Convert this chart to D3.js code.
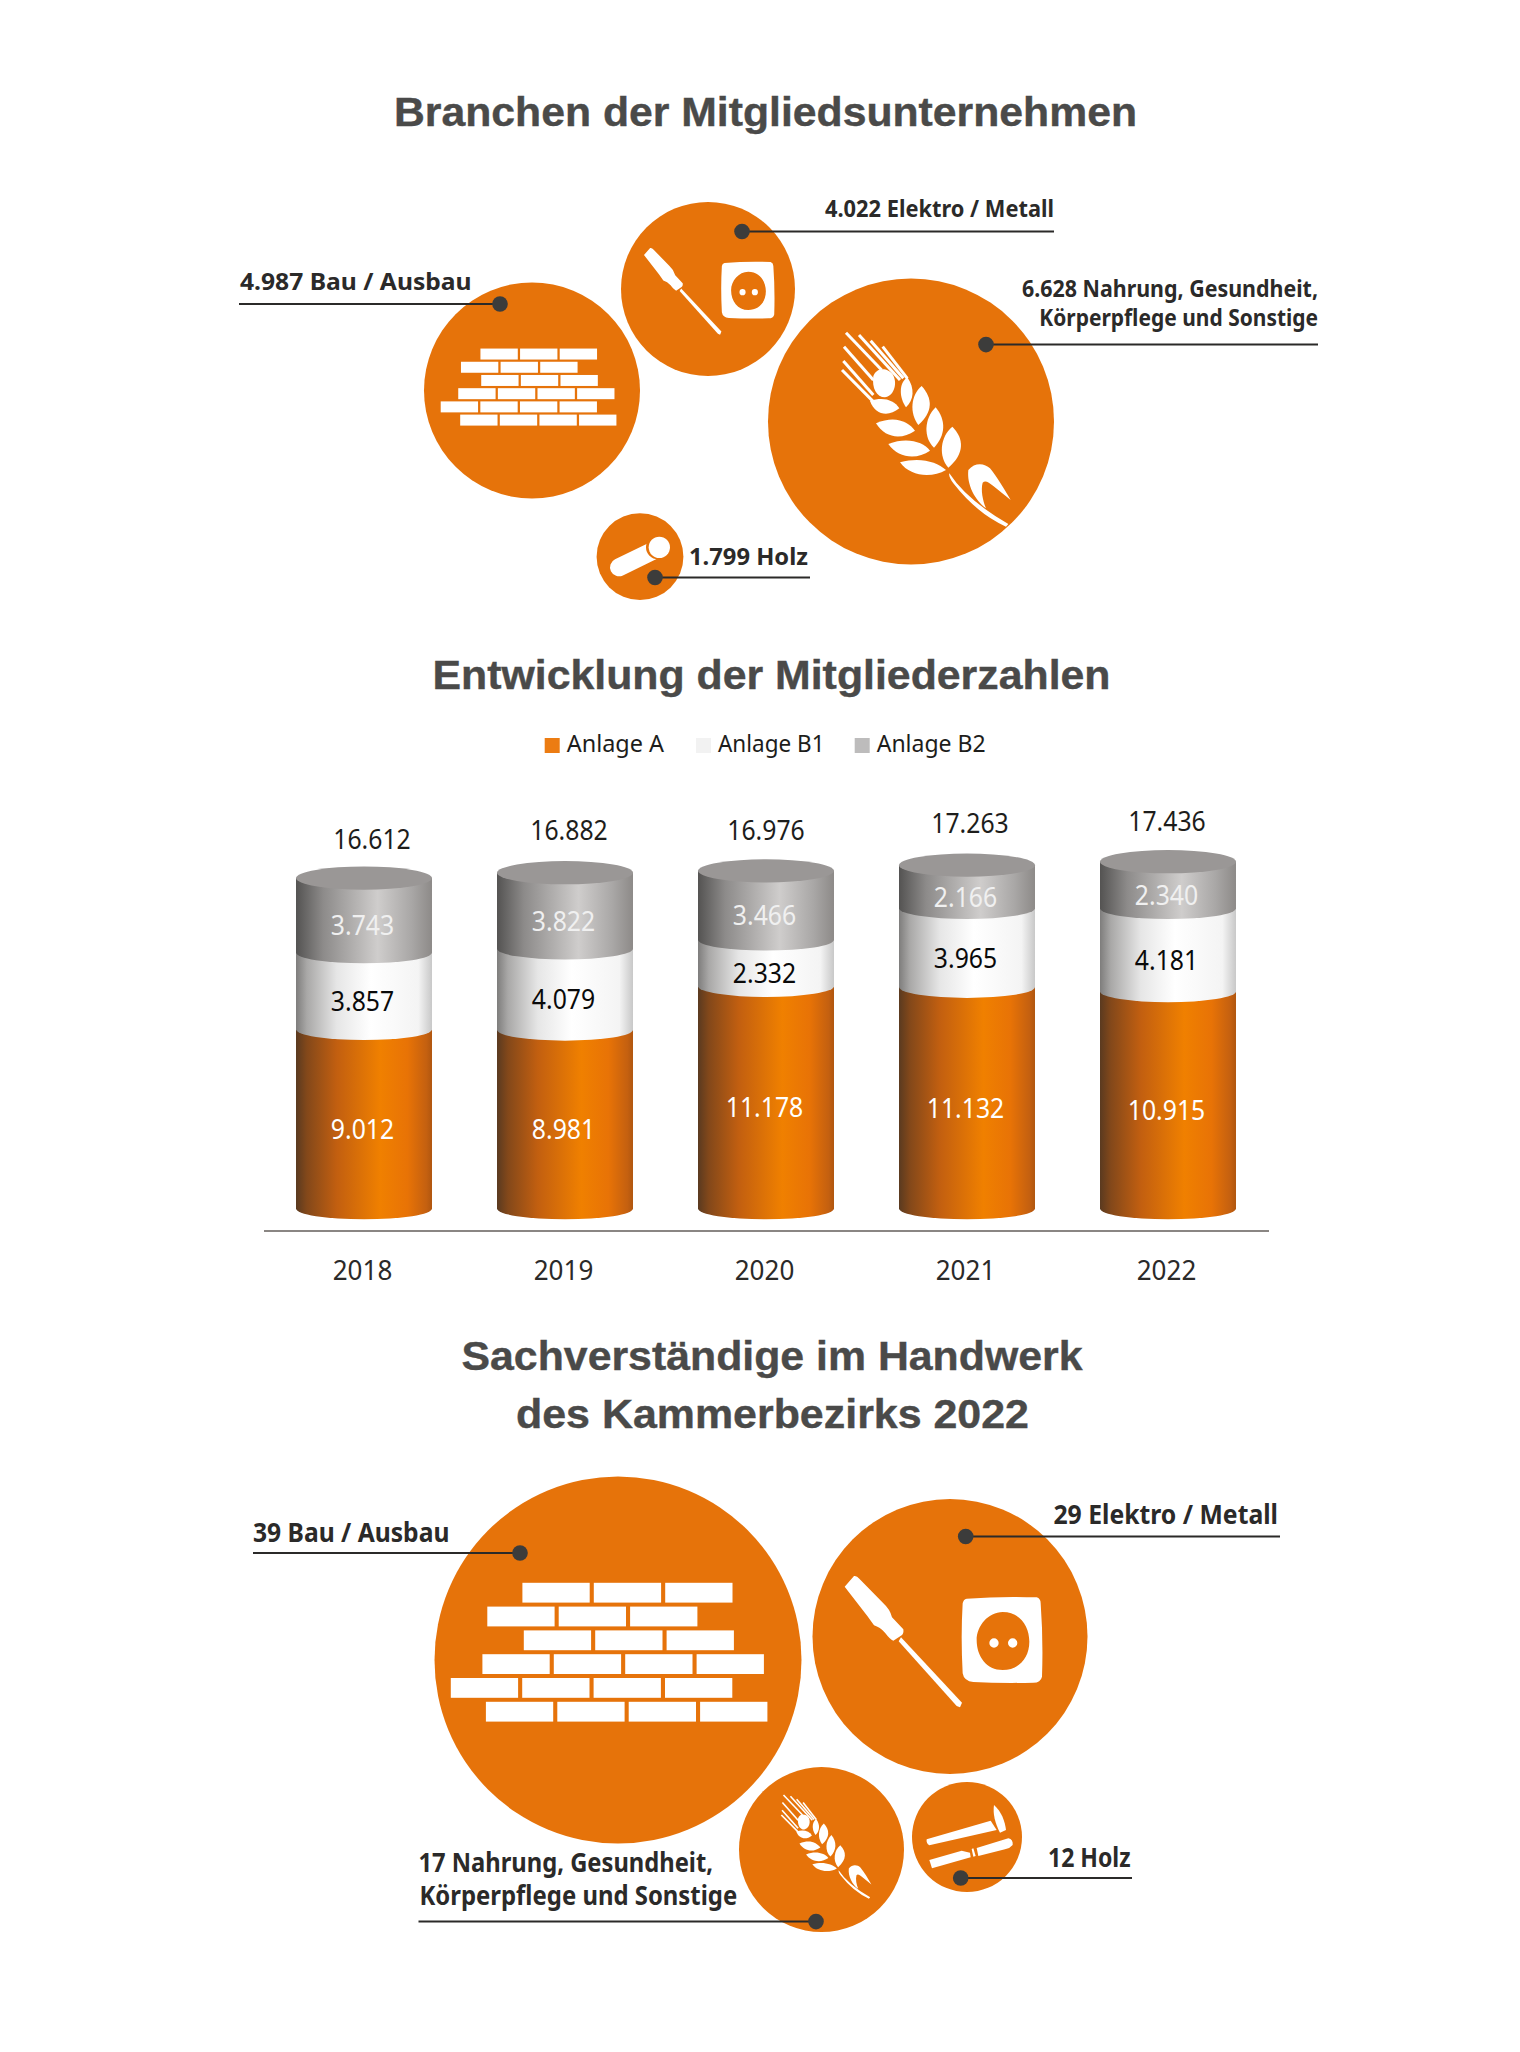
<!DOCTYPE html>
<html lang="de">
<head>
<meta charset="utf-8">
<title>Mitgliedsunternehmen</title>
<script src="https://cdn.jsdelivr.net/npm/d3@7"></script>
<style>
    body { margin: 0; background: #fff; }
    svg { display: block; }
    text { font-family: "Noto Sans", sans-serif; }
    .title { font-family: "Liberation Sans", sans-serif; font-weight: 700; font-size: 41px; fill: #4a4a49; stroke: #4a4a49; stroke-width: 0.4px; text-anchor: middle; }
</style>
</head>
<body>
<div id="chart"></div>
<script>
// Data
const branchNames = [["Bau / Ausbau"], ["Elektro / Metall"], ["Nahrung, Gesundheit,", "Körperpflege und Sonstige"], ["Holz"]];
const memberCounts = [4987, 4022, 6628, 1799];
const expertCounts = [39, 29, 17, 12];

const years = ["2018", "2019", "2020", "2021", "2022"];
const anlageA = [9012, 8981, 11178, 11132, 10915];
const anlageB1 = [3857, 4079, 2332, 3965, 4181];
const anlageB2 = [3743, 3822, 3466, 2166, 2340];
const seriesNames = ["Anlage A", "Anlage B1", "Anlage B2"];

const width = 1520, height = 2052;
const orange = "#e6730a", ink = "#2b2a29", dotColor = "#3c3c3b";
const fmt = d3.formatLocale({decimal: ",", thousands: ".", grouping: [3], currency: ["", ""]}).format(",d");

let svg = d3.select("#chart").append("svg")
    .attr("width", width)
    .attr("height", height);

svg.append("rect").attr("width", width).attr("height", height).attr("fill", "#fff");

// The original type is narrower than Noto Sans, so squeeze it a little
function condense(selection, factor) {
    selection.each(function () {
        d3.select(this)
            .attr("textLength", this.getComputedTextLength() * factor)
            .attr("lengthAdjust", "spacingAndGlyphs");
    });
}

// Titles
let titles = [
    {text: "Branchen der Mitgliedsunternehmen", x: 765.5, y: 126, w: 743},
    {text: "Entwicklung der Mitgliederzahlen", x: 771.5, y: 689, w: 678},
    {text: "Sachverständige im Handwerk", x: 772, y: 1369.5, w: 621},
    {text: "des Kammerbezirks 2022", x: 772.5, y: 1427.5, w: 513}
];
svg.selectAll("text.title")
    .data(titles)
    .enter()
    .append("text")
    .attr("class", "title")
    .attr("x", d => d.x)
    .attr("y", d => d.y)
    .attr("textLength", d => d.w)
    .attr("lengthAdjust", "spacingAndGlyphs")
    .text(d => d.text);

// Icon shapes, each in the coordinates of the crop it was traced from
const toolPaths = [
    "M44,200 L72,168 Q80,166 88,176 L160,250 Q180,268 186,292 L220,328 Q222,340 215,346 L190,362 Q180,358 165,338 Q150,322 132,316 L112,288 Z",
    "M213,352 L396,548 L390,562 L380,558 L206,364 Z",
    "M410,236 Q515,228 620,232 Q632,236 632,250 Q640,360 636,470 Q632,488 610,488 Q510,490 430,486 Q402,484 398,460 Q392,350 398,250 Q400,238 410,236 Z " +
        "M518,276 C570,276 598,320 598,365 C598,415 565,450 518,450 C470,450 440,410 440,360 C440,318 475,276 518,276 Z " +
        "M478,369 a14,14 0 1,0 28,0 a14,14 0 1,0 -28,0 Z M534,369 a14,14 0 1,0 28,0 a14,14 0 1,0 -28,0 Z"
];
const wheatPaths = [
    "M160,228 C170,205 190,205 205,212 C235,225 232,285 195,292 C170,292 155,265 160,228 Z",
    "M262,232 C285,265 282,300 258,322 C238,295 235,250 262,232 Z",
    "M305,258 C338,295 340,335 295,375 C268,340 272,285 305,258 Z",
    "M347,322 C378,360 378,405 342,443 C310,415 312,355 347,322 Z",
    "M397,380 C432,415 435,460 385,503 C355,470 360,410 397,380 Z",
    "M150,303 C190,290 222,300 238,325 C205,352 165,345 150,303 Z",
    "M168,370 C225,345 265,365 285,392 C245,420 195,415 168,370 Z",
    "M205,432 C260,410 310,425 330,452 C290,480 235,475 205,432 Z",
    "M240,487 C300,470 350,485 378,510 C335,535 270,530 240,487 Z",
    "M388,520 Q440,600 565,672 L558,680 Q470,640 400,550 Q385,530 388,520 Z",
    "M445,510 C465,485 495,490 510,505 C530,530 555,570 572,600 L520,558 C505,545 495,540 488,548 C482,570 488,600 498,625 C465,600 440,555 445,510 Z"
];
const wheatAwns = [
    [78, 98, 185, 210], [117, 105, 240, 240], [152, 122, 250, 235], [188, 140, 262, 235],
    [72, 140, 160, 240], [70, 183, 160, 285], [66, 210, 160, 305]
];
const hammerPaths = [
    "M380,178 L572,122 L590,150 L388,196 Q378,190 380,178 Z",
    "M582,75 C605,95 615,125 618,150 L600,158 C585,130 578,100 582,75 Z",
    "M388,240 L485,212 L510,218 L512,232 L396,265 Z",
    "M515,207 L520,205 L527,228 L520,230 Z",
    "M530,204 L625,175 Q640,178 638,195 Q630,205 615,208 L535,228 Z"
];
const brickRows = [[-95.6, 3], [-130.7, 3], [-94.2, 3], [-135.6, 4], [-167.2, 4], [-132.1, 4]];

function drawBricks(g) {
    brickRows.forEach((row, i) => {
        d3.range(row[1]).forEach(j => {
            g.append("rect")
                .attr("x", row[0] + j * 71.4)
                .attr("y", -77.2 + i * 23.8)
                .attr("width", 67.3)
                .attr("height", 19.8)
                .attr("fill", "#fff");
        });
    });
}

function drawTools(g) {
    g.selectAll("path").data(toolPaths).enter().append("path")
        .attr("d", d => d)
        .attr("fill", "#fff")
        .attr("fill-rule", "evenodd");
}

function drawWheat(g) {
    g.selectAll("line").data(wheatAwns).enter().append("line")
        .attr("x1", d => d[0]).attr("y1", d => d[1])
        .attr("x2", d => d[2]).attr("y2", d => d[3])
        .attr("stroke", "#fff")
        .attr("stroke-width", 9);
    g.selectAll("path").data(wheatPaths).enter().append("path")
        .attr("d", d => d)
        .attr("fill", "#fff");
}

function drawLog(g) {
    g.append("line")
        .attr("x1", 87).attr("y1", 187).attr("x2", 200).attr("y2", 132)
        .attr("stroke", "#fff").attr("stroke-width", 54).attr("stroke-linecap", "round");
    g.append("circle").attr("cx", 204).attr("cy", 127).attr("r", 36).attr("fill", orange);
    g.append("circle").attr("cx", 208).attr("cy", 127).attr("r", 32).attr("fill", "#fff");
}

function drawHammer(g) {
    g.selectAll("path").data(hammerPaths).enter().append("path")
        .attr("d", d => d)
        .attr("fill", "#fff");
}

// One group of bubbles with its icons, leader lines and labels
function drawBubbles(values, layout) {
    let keys = branchNames.map(d => d[0]);
    let cx = d3.scaleOrdinal(keys, layout.cx);
    let cy = d3.scaleOrdinal(keys, layout.cy);
    let sorted = d3.sort(values.map((v, i) => [v, layout.r[i]]), d => d[0]);
    let radius = d3.scaleLinear(sorted.map(d => d[0]), sorted.map(d => d[1]));

    let g = svg.append("g");
    g.selectAll("circle")
        .data(values)
        .enter()
        .append("circle")
        .attr("cx", (d, i) => cx(keys[i]))
        .attr("cy", (d, i) => cy(keys[i]))
        .attr("r", d => radius(d))
        .attr("fill", orange);

    layout.icons.forEach(icon => {
        let ig = g.append("g").attr("transform", `translate(${icon.x},${icon.y}) scale(${icon.s})`);
        icon.draw(ig);
    });

    values.forEach((v, i) => {
        let dot = layout.dots[i];
        g.append("line")
            .attr("x1", dot[0]).attr("y1", dot[1])
            .attr("x2", layout.lineEnd[i]).attr("y2", dot[1])
            .attr("stroke", ink)
            .attr("stroke-width", 2);
        g.append("circle")
            .attr("cx", dot[0]).attr("cy", dot[1]).attr("r", 7.8)
            .attr("fill", dotColor);
        branchNames[i].forEach((line, k) => {
            let t = layout.labels[i][k];
            g.append("text")
                .attr("x", t.x)
                .attr("y", t.y)
                .attr("text-anchor", t.anchor)
                .attr("font-size", layout.fontSize)
                .attr("font-weight", 700)
                .attr("fill", ink)
                .attr("textLength", t.w)
                .attr("lengthAdjust", "spacingAndGlyphs")
                .text(k === 0 ? `${fmt(v)} ${line}` : line);
        });
    });
}

drawBubbles(memberCounts, {
    cx: [532, 708, 911, 640],
    cy: [390.5, 289, 421.5, 556.7],
    r: [108, 87, 143, 43.4],
    dots: [[500, 304], [742, 231.5], [986, 344.6], [655, 577.5]],
    lineEnd: [239, 1054, 1318, 810],
    fontSize: 24,
    labels: [
        [{x: 240, y: 290, anchor: "start", w: 231.6}],
        [{x: 1054, y: 216.5, anchor: "end", w: 229}],
        [{x: 1318, y: 296.7, anchor: "end", w: 296}, {x: 1318, y: 326, anchor: "end", w: 278.7}],
        [{x: 808, y: 565, anchor: "end", w: 119}]
    ],
    icons: [
        {draw: drawBricks, x: 533.5, y: 391.4, s: 0.555},
        {draw: drawTools, x: 634.3, y: 211, s: 0.22},
        {draw: drawWheat, x: 820, y: 300, s: 1 / 3},
        {draw: drawLog, x: 590, y: 505, s: 1 / 3}
    ]
});

drawBubbles(expertCounts, {
    cx: [618, 950, 821.5, 967],
    cy: [1660, 1636.5, 1849.6, 1837],
    r: [183.5, 137.5, 82.5, 55],
    dots: [[520, 1553], [965.7, 1536.5], [816, 1921.6], [960.7, 1878]],
    lineEnd: [253, 1280, 418.5, 1132],
    fontSize: 27,
    labels: [
        [{x: 253, y: 1541.6, anchor: "start", w: 196.4}],
        [{x: 1278, y: 1524, anchor: "end", w: 224.6}],
        [{x: 418.5, y: 1872, anchor: "start", w: 294.5}, {x: 419.5, y: 1905, anchor: "start", w: 317.7}],
        [{x: 1130.6, y: 1867, anchor: "end", w: 82.6}]
    ],
    icons: [
        {draw: drawBricks, x: 618, y: 1660, s: 1},
        {draw: drawTools, x: 830, y: 1520, s: 1 / 3},
        {draw: drawWheat, x: 769.6, y: 1777.6, s: 0.178},
        {draw: drawHammer, x: 800, y: 1780, s: 1 / 3}
    ]
});

// Legend
const legendColors = ["#ec7c12", "#f2f2f2", "#bdbcbc"];
const legendX = [544.7, 696, 854.7];
const legendWidths = [97.3, 106.5, 109];
let legend = svg.append("g")
    .selectAll("g")
    .data(seriesNames)
    .enter()
    .append("g")
    .attr("transform", (d, i) => `translate(${legendX[i]},738)`);
legend.append("rect")
    .attr("width", 15)
    .attr("height", 15)
    .attr("fill", (d, i) => legendColors[i]);
legend.append("text")
    .attr("x", 22)
    .attr("y", 14.3)
    .attr("font-size", 23.5)
    .attr("fill", "#1d1d1b")
    .attr("textLength", (d, i) => legendWidths[i])
    .attr("lengthAdjust", "spacingAndGlyphs")
    .text(d => d);

// Cylinder gradients
const gradients = {
    "grad-a": [[0, "#5a3a20"], [0.08, "#83481a"], [0.3, "#c25f10"], [0.62, "#f08000"], [0.82, "#e87306"], [0.96, "#c46010"], [1, "#b0560f"]],
    "grad-b1": [[0, "#7e7d7c"], [0.08, "#a9a8a7"], [0.3, "#e6e6e6"], [0.55, "#fff"], [0.9, "#f4f4f4"], [1, "#c8c8c8"]],
    "grad-b2": [[0, "#545352"], [0.2, "#8d8b8a"], [0.6, "#cfcdcc"], [0.85, "#a9a7a6"], [1, "#8d8a88"]]
};
let defs = svg.append("defs");
Object.keys(gradients).forEach(id => {
    let grad = defs.append("linearGradient").attr("id", id);
    gradients[id].forEach(s => {
        grad.append("stop").attr("offset", s[0]).attr("stop-color", s[1]);
    });
});
const segmentFills = ["url(#grad-a)", "url(#grad-b1)", "url(#grad-b2)"];
const segmentText = ["#fff", "#0a0a0a", "#f0f0f0"];

// Stacked cylinders
let table = years.map((y, i) => ({year: y, a: anlageA[i], b1: anlageB1[i], b2: anlageB2[i]}));
let stack = d3.stack().keys(["a", "b1", "b2"])(table);
let totals = table.map(d => d.a + d.b1 + d.b2);

let x = d3.scaleBand()
    .domain(years)
    .range([263.5, 1268.5])
    .paddingInner(0.3234)
    .paddingOuter(0.1617);
let y = d3.scaleLinear()
    .domain([0, d3.max(totals)])
    .range([1208.5, 861.7]);

const rx = x.bandwidth() / 2, ry = 10.8;
let bars = svg.append("g");
stack.forEach((series, s) => {
    bars.append("g")
        .selectAll("path")
        .data(series)
        .enter()
        .append("path")
        .attr("d", d => {
            let left = x(d.data.year), right = left + x.bandwidth();
            return `M${left},${y(d[1])} L${left},${y(d[0])} A${rx},${ry} 0 0 0 ${right},${y(d[0])} L${right},${y(d[1])} Z`;
        })
        .attr("fill", segmentFills[s]);
});

bars.append("g")
    .selectAll("ellipse")
    .data(table)
    .enter()
    .append("ellipse")
    .attr("cx", d => x(d.year) + rx)
    .attr("cy", (d, i) => y(totals[i]))
    .attr("rx", rx)
    .attr("ry", 11.6)
    .attr("fill", "#9a9796");

// Values inside the segments
stack.forEach((series, s) => {
    bars.append("g")
        .selectAll("text")
        .data(series)
        .enter()
        .append("text")
        .attr("x", d => x(d.data.year) + rx - 1.5)
        .attr("y", d => (y(d[0]) + y(d[1])) / 2 + 20)
        .attr("text-anchor", "middle")
        .attr("font-size", 27.5)
        .attr("fill", segmentText[s])
        .text(d => fmt(d[1] - d[0]))
        .call(condense, 0.9);
});

// Totals above the cylinders, nudged as in the picture
const totalNudgeX = [8, 4, 0, 3, -1];
const totalNudgeY = [2, -2, 0, -1, 0];
bars.append("g")
    .selectAll("text")
    .data(totals)
    .enter()
    .append("text")
    .attr("x", (d, i) => x(years[i]) + rx + totalNudgeX[i])
    .attr("y", (d, i) => y(d) - 31 + totalNudgeY[i])
    .attr("text-anchor", "middle")
    .attr("font-size", 27.5)
    .attr("fill", "#1d1d1b")
    .text(d => fmt(d))
    .call(condense, 0.9);

// Baseline and years
let axis = svg.append("g")
    .attr("transform", "translate(-1.5,1230.6)")
    .call(d3.axisBottom(x).tickSize(0).tickSizeOuter(0));
axis.select(".domain").attr("stroke", "#8a8683").attr("stroke-width", 2).attr("transform", "translate(1.5,0)");
axis.selectAll("text")
    .attr("y", 49)
    .attr("dy", 0)
    .attr("font-size", 28)
    .attr("font-family", '"Noto Sans", sans-serif')
    .attr("fill", ink)
    .call(condense, 0.93);
</script>
</body>
</html>
